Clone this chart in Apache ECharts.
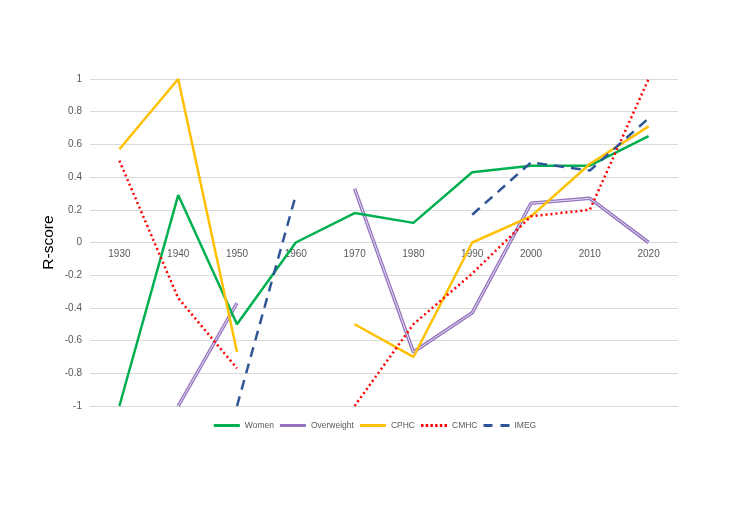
<!DOCTYPE html>
<html><head><meta charset="utf-8">
<script src="https://cdn.jsdelivr.net/npm/echarts@6/dist/echarts.min.js"></script>
<style>html,body{margin:0;padding:0;background:#fff}#c{width:750px;height:519px}</style>
</head><body><div id="c"></div>
<script>
const categories = ['1930','1940','1950','1960','1970','1980','1990','2000','2010','2020'];
const women      = [-1.0, 0.29, -0.50, 0.00, 0.18, 0.12, 0.43, 0.47, 0.47, 0.65];
const overweight = [null, -1.0, -0.37, null, 0.33, -0.67, -0.43, 0.24, 0.27, 0.00];
const cphc       = [0.57, 1.0, -0.67, null, -0.50, -0.70, 0.00, 0.16, 0.48, 0.71];
const cmhc       = [0.50, -0.34, -0.77, null, -1.0, -0.50, -0.19, 0.16, 0.20, 1.0];
const imeg       = [null, null, -1.0, 0.29, null, null, 0.17, 0.49, 0.44, 0.76];

const GRID_TOP = 79, GRID_BOTTOM = 113, H = 519;
const plotH = H - GRID_TOP - GRID_BOTTOM;

const solidIcon  = 'path://M0,0h26v3h-26z';
const dottedIcon = 'path://M0,0h2.5v3h-2.5z M4.7,0h2.5v3h-2.5z M9.4,0h2.5v3h-2.5z M14.1,0h2.5v3h-2.5z M18.8,0h2.5v3h-2.5z M23.5,0h2.5v3h-2.5z';
const dashedIcon = 'path://M0,0h9v3h-9z M17,0h9v3h-9z';

const chart = echarts.init(document.getElementById('c'));
const base = {type:'line', showSymbol:false, symbol:'none', connectNulls:false, smooth:false};
const font = 'Liberation Sans, Arial, sans-serif';
chart.setOption({
  backgroundColor:'#fff',
  animation:false,
  grid:{left:90, right:72, top:GRID_TOP, bottom:GRID_BOTTOM},
  legend:{
    data:[
      {name:'Women', icon:solidIcon},
      {name:'Overweight', icon:solidIcon},
      {name:'CPHC', icon:solidIcon},
      {name:'CMHC', icon:dottedIcon},
      {name:'IMEG', icon:dashedIcon}
    ],
    bottom:84, left:'center', itemWidth:26, itemHeight:3, itemGap:6,
    textStyle:{color:'#595959', fontSize:8.5, fontFamily:font}
  },
  xAxis:{
    type:'category', data:categories, boundaryGap:true,
    offset: -plotH/2,
    axisLine:{onZero:false, show:false},
    axisTick:{show:false},
    axisLabel:{color:'#595959', fontSize:10, margin:7, fontFamily:font}
  },
  yAxis:{
    type:'value', min:-1, max:1, interval:0.2,
    name:'R-score', nameLocation:'middle', nameGap:33, nameRotate:90, nameMoveOverlap:false,
    nameTextStyle:{fontSize:15.5, color:'#000', fontFamily:font},
    axisLine:{show:false}, axisTick:{show:false},
    splitLine:{lineStyle:{color:'#d9d9d9'}},
    axisLabel:{color:'#595959', fontSize:10, margin:8, fontFamily:font,
      formatter:v=>{const r=Math.round(v*10)/10; return r===0?'0':String(r);}}
  },
  series:[
    Object.assign({}, base, {name:'Women', data:women, color:'#00b050', lineStyle:{color:'#00b050', width:2.5}, z:3}),
    Object.assign({}, base, {name:'Overweight', data:overweight, color:'#9474bf', lineStyle:{color:'#9474bf', width:3.5}, z:2}),
    Object.assign({}, base, {name:'Overweight inner', data:overweight, color:'#e6ddf0', lineStyle:{color:'#e6ddf0', width:1}, z:2}),
    Object.assign({}, base, {name:'CPHC', data:cphc, color:'#ffc000', lineStyle:{color:'#ffc000', width:2.5}, z:3}),
    Object.assign({}, base, {name:'CMHC', data:cmhc, color:'#ff0000', lineStyle:{color:'#ff0000', width:2.5, type:[2,3]}, z:4}),
    Object.assign({}, base, {name:'IMEG', data:imeg, color:'#2f5597', lineStyle:{color:'#2f5597', width:2.5, type:[10,7]}, z:4})
  ]
});
</script></body></html>
